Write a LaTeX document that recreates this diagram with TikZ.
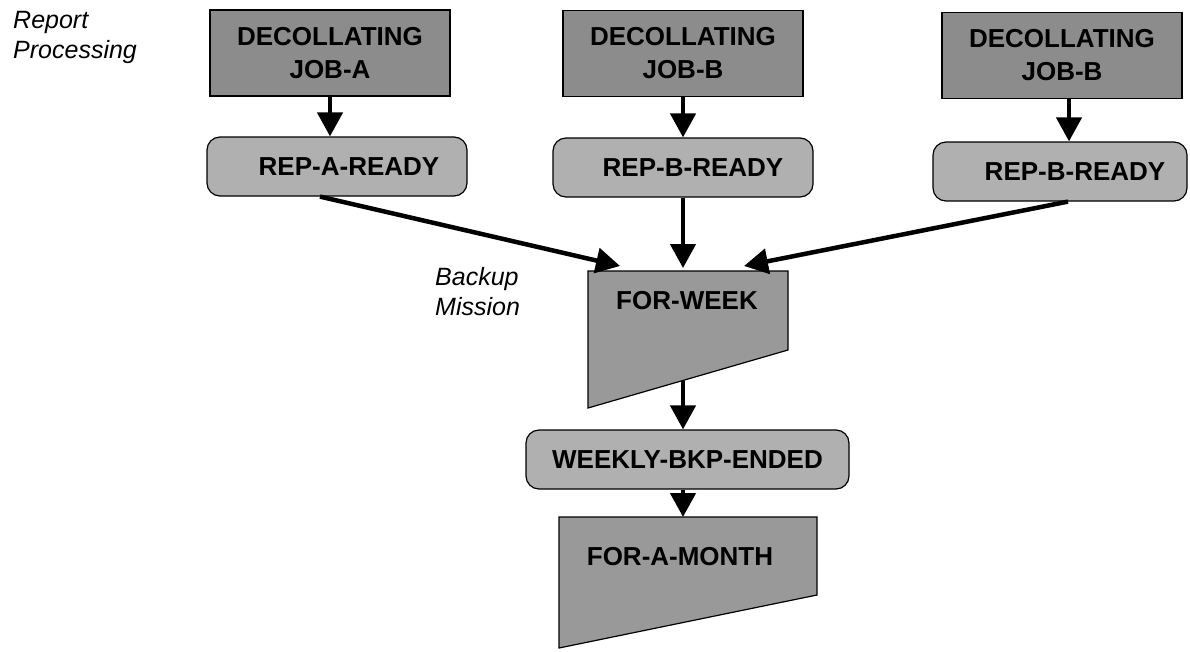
\documentclass[tikz,border=0pt]{standalone}
\usepackage{fontspec}
\setmainfont{Liberation Sans}
\usetikzlibrary{arrows.meta}
\definecolor{rectgray}{gray}{0.55}
\definecolor{roundgray}{gray}{0.69}
\definecolor{trapgray}{gray}{0.60}
\begin{document}
\begin{tikzpicture}[x=1pt,y=-1pt,
  box/.style={draw=black, line width=1.2pt, inner sep=0pt, align=center,
    font=\fontsize{26}{33}\selectfont\bfseries},
  jobbox/.style={box, fill=rectgray, minimum width=240pt, minimum height=86pt},
  repbox/.style={box, fill=roundgray, rounded corners=13pt,
    minimum width=260pt, minimum height=59pt},
  mission/.style={draw=black, line width=1.2pt, fill=trapgray},
  caption/.style={inner sep=0pt, font=\fontsize{26}{33}\selectfont\bfseries},
  tag/.style={inner sep=0pt, align=left, anchor=north west,
    font=\fontsize{25}{30}\selectfont\itshape},
  flow/.style={line width=4.5pt, -{Triangle[length=24pt,width=25pt]}},
]
\useasboundingbox (0,0) rectangle (1190,651);

% section labels
\node[tag] (rp) at (13,11) {Report\\Processing};
\node[tag] (bm) at (435,267) {Backup\\Mission};

% decollating jobs
\node[jobbox] (ja) at (330,53) {DECOLLATING\\JOB-A};
\node[jobbox] (jb) at (683,53.5) {DECOLLATING\\JOB-B};
\node[jobbox] (jc) at (1062,55.5) {DECOLLATING\\JOB-B};

% report-ready conditions
\node[repbox] (ra) at (337,166.5) {\raisebox{-3pt}{\hspace*{24pt}REP-A-READY}};
\node[repbox] (rb) at (683,167.5) {\raisebox{-3pt}{\hspace*{20pt}REP-B-READY}};
\node[repbox, minimum width=254pt] (rc) at (1060,171.5) {\raisebox{-3pt}{\hspace*{30pt}REP-B-READY}};

% weekly backup mission
\coordinate (wk-nw) at (588,271);
\coordinate (wk-ne) at (788,271);
\coordinate (wk-se) at (788,350);
\coordinate (wk-sw) at (588,408);
\filldraw[mission] (wk-nw) -- (wk-ne) -- (wk-se) -- (wk-sw) -- cycle;
\node[caption] (week) at (687,301) {FOR-WEEK};
\coordinate (wk-inL) at (620,266);
\coordinate (wk-inM) at (683,268);
\coordinate (wk-inR) at (744,266);
\coordinate (wk-out) at (683,381);

% weekly-ended condition
\node[repbox, minimum width=323pt] (wl) at (687.5,459.5) {WEEKLY-BKP-ENDED};

% monthly backup mission
\coordinate (mo-nw) at (559,517);
\coordinate (mo-ne) at (817,517);
\coordinate (mo-se) at (817,595);
\coordinate (mo-sw) at (559,648);
\filldraw[mission] (mo-nw) -- (mo-ne) -- (mo-se) -- (mo-sw) -- cycle;
\node[caption] (month) at (680,557) {FOR-A-MONTH};

% flow
\draw[flow] (ja.south) -- (ja.south |- ra.north);
\draw[flow] (jb.south) -- (rb.north);
\draw[flow] ([xshift=7pt]jc.south) -- ([xshift=7pt]jc.south |- rc.north);
\draw[flow] ([xshift=-17pt]ra.south) -- (wk-inL);
\draw[flow] (rb.south) -- (wk-inM);
\draw[flow] ([xshift=8pt]rc.south) -- (wk-inR);
\draw[flow] (wk-out) -- (wk-out |- wl.north);
\draw[flow] (wl.south -| wk-out) -- (wk-out |- mo-nw);
\end{tikzpicture}
\end{document}
